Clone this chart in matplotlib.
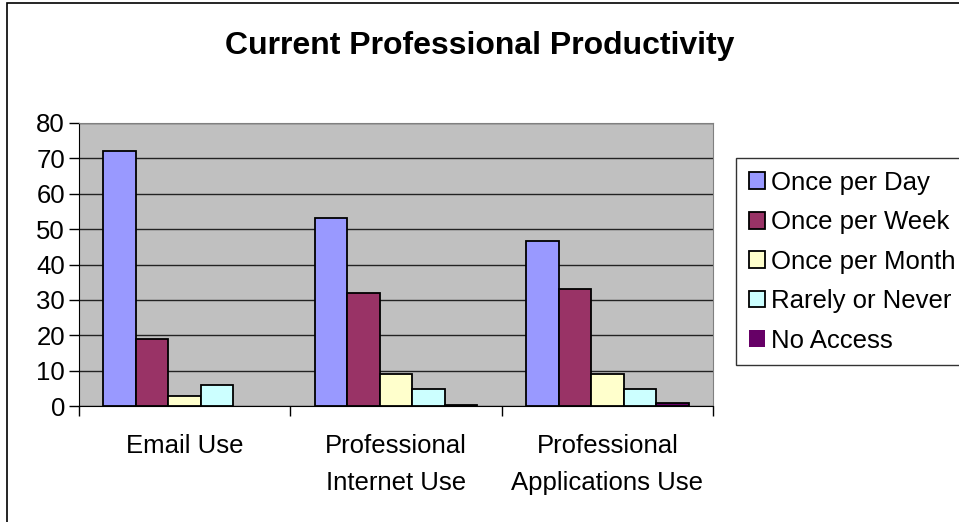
import numpy as np
import matplotlib.pyplot as plt
from matplotlib.patches import Rectangle

plt.rcParams['font.family'] = ['Liberation Sans', 'DejaVu Sans']

categories = ["Email Use", "Professional\nInternet Use", "Professional\nApplications Use"]
series = ["Once per Day", "Once per Week", "Once per Month", "Rarely or Never", "No Access"]
once_per_day = [72, 53, 46.5]
once_per_week = [19, 32, 33]
once_per_month = [3, 9, 9]
rarely_or_never = [6, 5, 5]
no_access = [0, 0.5, 1]
colors = ["#9999FF", "#993366", "#FFFFCC", "#CCFFFF", "#660066"]

values = [once_per_day, once_per_week, once_per_month, rarely_or_never, no_access]

fig = plt.figure(figsize=(9.59, 5.22), dpi=100)
ax = fig.add_axes([79 / 959, 1 - 406.3 / 522, (713 - 79) / 959, (406.3 - 122.7) / 522])
ax.set_facecolor("#C0C0C0")

x = np.arange(len(categories))
w = 1 / 6.5
for j, (name, vals) in enumerate(zip(series, values)):
    # zero-height bars get no outline
    lw = [1.3 if v > 0 else 0 for v in vals]
    ax.bar(x + (j - 2) * w, vals, width=w, color=colors[j], edgecolor="black",
           linewidth=lw, label=name, zorder=3)

ax.set_xlim(-0.5, len(categories) - 0.5)
ax.set_ylim(0, 80)
ax.set_yticks(range(0, 81, 10))
ax.yaxis.grid(True, color="#222222", linewidth=1, zorder=1)
ax.set_axisbelow(True)

# category ticks sit on the boundaries, labels in the middle
ax.set_xticks(np.arange(-0.5, len(categories)), minor=False)
ax.set_xticklabels([])
ax.set_xticks(x, minor=True)
ax.set_xticklabels(categories, minor=True, fontsize=18.5, linespacing=1.66)
ax.tick_params(axis="x", which="minor", length=0, pad=20)
ax.tick_params(axis="x", which="major", length=7, direction="out", width=1)
ax.tick_params(axis="y", length=7, direction="out", width=1, labelsize=18.5, pad=3)

for side in ["top", "right"]:
    ax.spines[side].set_color("#808080")
for side in ["left", "bottom"]:
    ax.spines[side].set_color("black")

fig.text(0.5, 1 - 46 / 522, "Current Professional Productivity", ha="center", va="center",
         fontsize=23, fontweight="bold")

leg = fig.legend(loc="upper left", bbox_to_anchor=(736 / 959, 1 - 158 / 522),
                 fontsize=18.5, frameon=True, fancybox=False, edgecolor="black",
                 handlelength=0.62, handleheight=0.62, handletextpad=0.25,
                 labelspacing=0.6, borderpad=0.5, borderaxespad=0)
leg.get_frame().set_linewidth(1)

# outer chart frame
fig.patches.append(Rectangle((7 / 959, -0.1), 1.2, 1.1 - 2.5 / 522, transform=fig.transFigure,
                             fill=False, edgecolor="black", linewidth=1.2))

fig.savefig("out.png", dpi=100)
